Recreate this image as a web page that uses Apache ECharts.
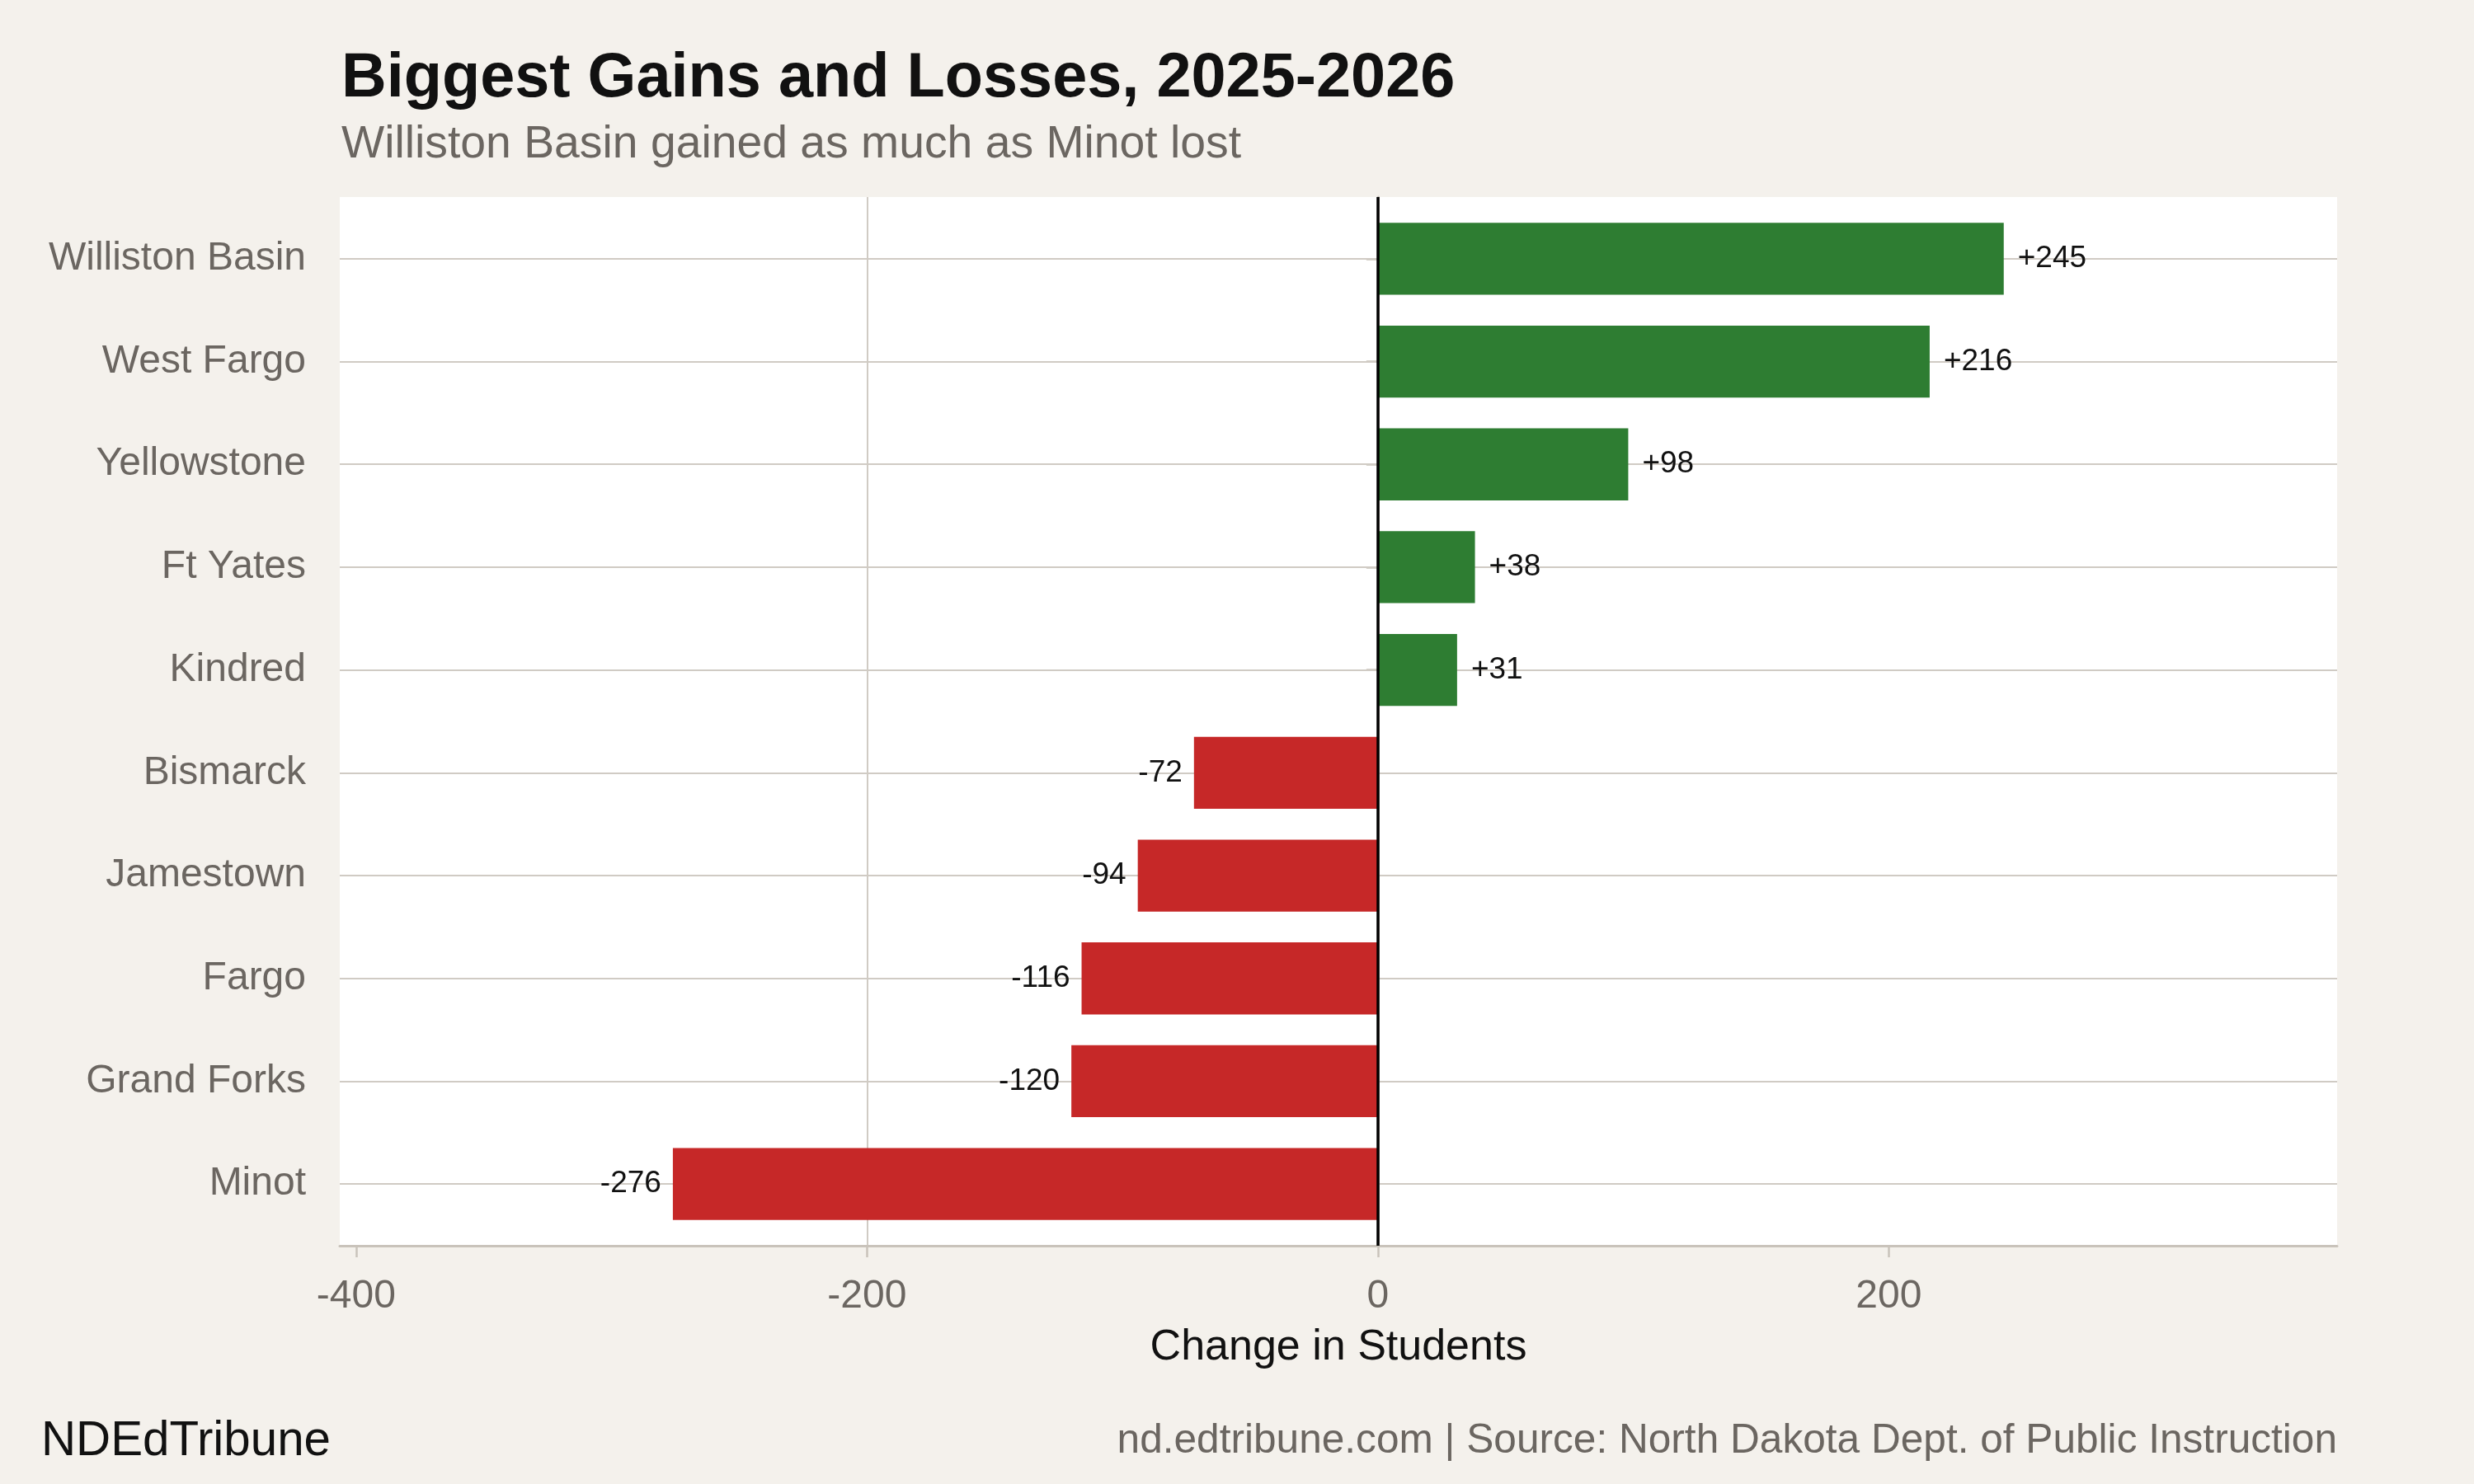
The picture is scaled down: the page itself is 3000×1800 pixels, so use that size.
<!DOCTYPE html>
<html><head><meta charset="utf-8">
<script src="https://cdn.jsdelivr.net/npm/echarts@6/dist/echarts.min.js"></script>
<style>html,body{margin:0;padding:0;background:#f4f1ec}#c{width:3000px;height:1800px}</style>
</head><body><div id="c"></div>
<script>
const categories = ['Williston Basin','West Fargo','Yellowstone','Ft Yates','Kindred','Bismarck','Jamestown','Fargo','Grand Forks','Minot'];
const changes = [245, 216, 98, 38, 31, -72, -94, -116, -120, -276];
const xTicks = [-400, -200, 0, 200];
const xMin = -406.4, xMax = 375.5;

const FONT = 'Liberation Sans';
const GRID_C = '#d0cbc4', AXIS_C = '#c9c3bb', LABEL_C = '#6b6661';
const GREEN = '#2e7d32', RED = '#c62828';

const chart = echarts.init(document.getElementById('c'));
const panel = {left: 412, top: 239, width: 2422, height: 1272};
const band = panel.height / 10.2;
const inner = {left: panel.left, top: panel.top + 0.1 * band, width: panel.width, height: band * 10};

chart.setOption({
  animation: false,
  backgroundColor: '#f4f1ec',
  textStyle: {fontFamily: FONT},
  title: [
    {text: 'Biggest Gains and Losses, 2025-2026', subtext: 'Williston Basin gained as much as Minot lost',
     left: 414, top: 58, itemGap: 14, padding: 0,
     textStyle: {fontFamily: FONT, fontSize: 75.7, fontWeight: 'bold', color: '#111'},
     subtextStyle: {fontFamily: FONT, fontSize: 55.3, color: LABEL_C}},
    {text: 'NDEdTribune', left: 50, top: 1720, padding: 0,
     textStyle: {fontFamily: FONT, fontSize: 58.3, fontWeight: 'normal', color: '#111'}},
    {text: 'nd.edtribune.com | Source: North Dakota Dept. of Public Instruction', right: 166, top: 1723, padding: 0,
     textStyle: {fontFamily: FONT, fontSize: 49.6, fontWeight: 'normal', color: LABEL_C}}
  ],
  grid: [
    {left: panel.left, top: panel.top, width: panel.width, height: panel.height, show: true, backgroundColor: '#fff', borderWidth: 0, containLabel: false},
    {left: inner.left, top: inner.top, width: inner.width, height: inner.height, show: false, containLabel: false}
  ],
  xAxis: [
    {gridIndex: 0, type: 'value', min: xMin, max: xMax,
     name: 'Change in Students', nameLocation: 'middle', nameGap: 98,
     nameTextStyle: {fontFamily: FONT, fontSize: 52, color: '#111'},
     axisLine: {show: true, onZero: false, lineStyle: {color: AXIS_C, width: 3}},
     axisTick: {show: true, length: 14, customValues: xTicks, lineStyle: {color: AXIS_C, width: 2.5}},
     axisLabel: {show: true, customValues: xTicks, margin: 38, fontFamily: FONT, fontSize: 48, color: LABEL_C},
     splitLine: {show: true, showMinLine: false, showMaxLine: false, lineStyle: {color: GRID_C, width: 2}}},
    {gridIndex: 1, type: 'value', min: xMin, max: xMax, show: false, splitLine: {show: false}}
  ],
  yAxis: [
    {gridIndex: 0, type: 'value', min: 0, max: 1,
     axisLine: {show: true, lineStyle: {color: AXIS_C, width: 3}},
     axisTick: {show: false}, axisLabel: {show: false}, splitLine: {show: false}},
    {gridIndex: 1, type: 'category', data: categories, inverse: true,
     axisLine: {show: false},
     axisTick: {show: true, alignWithLabel: true, length: 14, lineStyle: {color: AXIS_C, width: 2.5}},
     axisLabel: {margin: 41, fontFamily: FONT, fontSize: 48, color: LABEL_C, padding: [16, 0, 0, 0]},
     splitLine: {show: false}}
  ],
  series: [
    {type: 'line', xAxisIndex: 1, yAxisIndex: 1, data: [], z: 1, silent: true,
     markLine: {silent: true, z: 1, symbol: ['none', 'none'], label: {show: false}, emphasis: {disabled: true},
       lineStyle: {type: 'solid', color: GRID_C, width: 2},
       data: categories.map((c, i) => ({yAxis: i}))}},
    {type: 'bar', xAxisIndex: 1, yAxisIndex: 1, barWidth: '70%', z: 3,
     data: changes.map(v => ({
       value: v,
       itemStyle: {color: v >= 0 ? GREEN : RED},
       label: {show: true, position: v >= 0 ? 'right' : 'left', distance: v >= 0 ? 17 : 14,
               formatter: (v > 0 ? '+' : '') + v,
               fontFamily: FONT, fontSize: 37, color: '#111', padding: [6, 0, 0, 0]}
     }))},
    {type: 'line', xAxisIndex: 0, yAxisIndex: 0, data: [], z: 6, silent: true,
     markLine: {silent: true, z: 6, symbol: ['none', 'none'], label: {show: false}, emphasis: {disabled: true},
       lineStyle: {type: 'solid', color: '#000', width: 3.5},
       data: [{xAxis: 0}]}}
  ]
});
</script></body></html>
